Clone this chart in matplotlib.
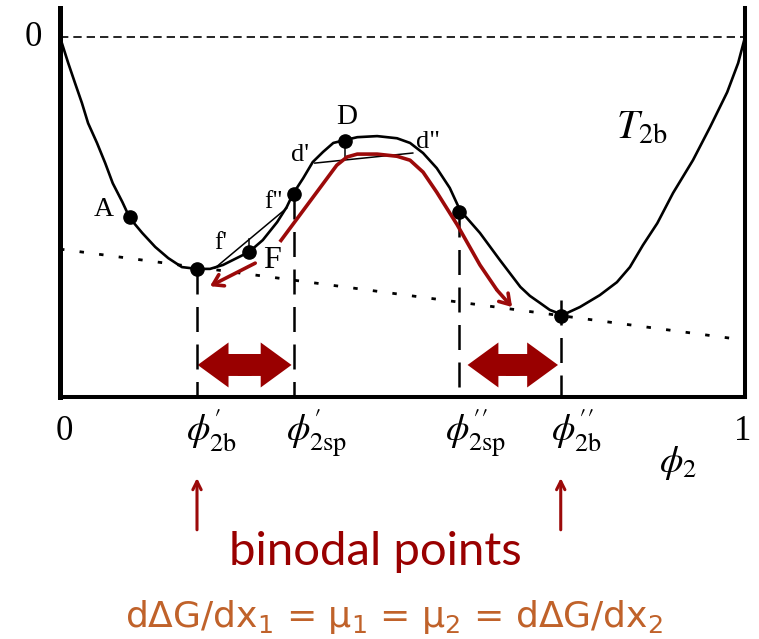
import matplotlib
matplotlib.use("Agg")
import matplotlib.pyplot as plt
from matplotlib.patches import FancyArrow

plt.rcParams['mathtext.fontset'] = 'stix'
SERIF = ['Liberation Serif', 'DejaVu Serif']

# free energy of mixing curve (phi_2 , dG in arbitrary units)
phi = [0.000, 0.012, 0.022, 0.032, 0.041, 0.054, 0.066, 0.077, 0.091, 0.102,
       0.120, 0.139, 0.158, 0.178, 0.200, 0.219, 0.238, 0.258, 0.276, 0.296,
       0.317, 0.331, 0.340, 0.355, 0.369, 0.384, 0.399, 0.416, 0.434, 0.463,
       0.492, 0.511, 0.530, 0.550, 0.569, 0.584, 0.613, 0.642, 0.672, 0.686,
       0.701, 0.715, 0.734, 0.759, 0.788, 0.813, 0.832, 0.851, 0.872, 0.895,
       0.924, 0.949, 0.974, 0.990, 1.000]
dG = [0.000, -0.072, -0.128, -0.183, -0.239, -0.294, -0.350, -0.406, -0.458, -0.503,
      -0.544, -0.583, -0.614, -0.639, -0.644, -0.644, -0.633, -0.614, -0.597, -0.564,
      -0.514, -0.472, -0.436, -0.392, -0.347, -0.319, -0.294, -0.286, -0.278, -0.275,
      -0.281, -0.294, -0.322, -0.364, -0.419, -0.481, -0.544, -0.619, -0.694, -0.719,
      -0.739, -0.758, -0.772, -0.750, -0.717, -0.681, -0.639, -0.578, -0.517, -0.433,
      -0.342, -0.250, -0.153, -0.072, 0.000]

# marked points: A, binodal', F, f'', D, spinodal'', binodal''
pt_phi = [0.102, 0.200, 0.276, 0.342, 0.416, 0.582, 0.731]
pt_dG = [-0.500, -0.644, -0.597, -0.436, -0.289, -0.486, -0.775]

# common tangent (dotted)
tan_phi = [0.0, 1.0]
tan_dG = [-0.589, -0.842]

# chords
chord_f_phi = [0.226, 0.331]
chord_f_dG = [-0.642, -0.475]
chord_d_phi = [0.372, 0.515]
chord_d_dG = [-0.350, -0.322]

# vertical drop lines: phi, top value
drop_phi = [0.200, 0.342, 0.582, 0.731]
drop_top = [-0.644, -0.436, -0.486, -0.731]

# red path of the system (D -> binodal)
red_phi = [0.321, 0.404, 0.419, 0.434, 0.463, 0.492, 0.511, 0.530, 0.550, 0.580,
           0.613, 0.638, 0.660]
red_dG = [-0.569, -0.356, -0.333, -0.325, -0.325, -0.331, -0.342, -0.375, -0.431, -0.522,
          -0.633, -0.703, -0.750]

# fat double arrows between binodal and spinodal
dbl_arrows = [(0.201, 0.338), (0.595, 0.727)]
dbl_y = -0.911

red = '#9c0a0a'

fig = plt.figure(figsize=(7.59, 6.39), dpi=100)
ax = fig.add_axes([60/759, 242/639, 685/759, 389/639])
ax.set_xlim(0, 1)
ax.set_ylim(-1, 0.081)
ax.set_xticks([])
ax.set_yticks([])
ax.spines['top'].set_visible(False)
ax.spines['left'].set_linewidth(3.6)
ax.spines['right'].set_linewidth(2.9)
ax.spines['bottom'].set_linewidth(2.9)

# zero line
ax.plot([0, 1], [0, 0], color='k', lw=1.2, ls=(0, (5, 3)))
# tangent
ax.plot(tan_phi, tan_dG, color='k', lw=2.0, ls=(0, (1.6, 5.5)))
# drop lines
for x, top in zip(drop_phi, drop_top):
    ax.plot([x, x], [top, -1], color='k', lw=1.8, ls=(0, (10, 5)))

# curve
ax.plot(phi, dG, color='k', lw=1.9, solid_joinstyle='round')
# chords and small ticks
ax.plot(chord_f_phi, chord_f_dG, color='k', lw=1.1)
ax.plot(chord_d_phi, chord_d_dG, color='k', lw=1.1)
ax.plot([pt_phi[2], pt_phi[2]], [pt_dG[2], -0.561], color='k', lw=1.1)
ax.plot([pt_phi[4], pt_phi[4]], [pt_dG[4], -0.333], color='k', lw=1.1)

ax.plot(pt_phi, pt_dG, 'o', color='k', ms=9.5)

# red arrows
ax.plot(red_phi[:-1], red_dG[:-1], color=red, lw=2.6, solid_capstyle='butt',
        solid_joinstyle='round')
ax.annotate('', xy=(red_phi[-1], red_dG[-1]), xytext=(red_phi[-2], red_dG[-2]),
            arrowprops=dict(arrowstyle='->,head_length=0.7,head_width=0.45',
                            color=red, lw=2.6, shrinkA=0, shrinkB=0))
ax.annotate('', xy=(0.219, -0.692), xytext=(0.285, -0.628),
            arrowprops=dict(arrowstyle='->,head_length=0.7,head_width=0.45',
                            color=red, lw=2.6, shrinkA=0, shrinkB=0))

# each half starts a bit past the middle so the two halves overlap
for x0, x1 in dbl_arrows:
    xc = (x0 + x1) / 2
    for start, end in ((xc - 0.01, x1), (xc + 0.01, x0)):
        ax.add_patch(FancyArrow(start, dbl_y, end - start, 0, width=0.061,
                                head_width=0.125, head_length=0.045,
                                length_includes_head=True, color='#990000', lw=0))

# labels on the curve
lab = dict(family=SERIF, color='k', ha='center', va='center')
ax.text(-0.039, 0.0, '0', fontsize=25, **lab)
ax.text(0.064, -0.478, 'A', fontsize=20, **lab)
ax.text(0.234, -0.572, "f'", fontsize=18, **lab)
ax.text(0.309, -0.622, 'F', fontsize=23, **lab)
ax.text(0.311, -0.458, 'f"', fontsize=18, **lab)
ax.text(0.350, -0.328, "d'", fontsize=19, **lab)
ax.text(0.418, -0.222, 'D', fontsize=21, **lab)
ax.text(0.537, -0.292, 'd"', fontsize=19, **lab)
ax.text(0.811, -0.283, r'$T_{\mathrm{2b}}$', fontsize=29, ha='left', va='baseline')

# axis labels
ax.text(0.006, -1.095, '0', fontsize=25, **lab)
ax.text(0.997, -1.095, '1', fontsize=25, **lab)
bl = dict(fontsize=27, ha='left', va='baseline')
ax.text(0.184, -1.125, r"$\phi^{\prime}_{\mathrm{2b}}$", **bl)
ax.text(0.330, -1.125, r"$\phi^{\prime}_{\mathrm{2sp}}$", **bl)
ax.text(0.562, -1.125, r"$\phi^{\prime\prime}_{\mathrm{2sp}}$", **bl)
ax.text(0.717, -1.125, r"$\phi^{\prime\prime}_{\mathrm{2b}}$", **bl)
ax.text(0.874, -1.208, r'$\phi_2$', **bl)

# binodal arrows and notes
for x in (pt_phi[1], pt_phi[6]):
    ax.annotate('', xy=(x, -1.225), xytext=(x, -1.369), annotation_clip=False,
                arrowprops=dict(arrowstyle='->,head_length=0.6,head_width=0.3',
                                color=red, lw=2.2, shrinkA=0, shrinkB=0))

ax.text(0.461, -1.467, 'binodal points', fontsize=34, color='#990000',
        family=['Lato', 'DejaVu Sans'], ha='center', va='baseline')
ax.text(0.488, -1.639,
        r'd$\mathregular{\Delta}$G/dx$\mathregular{_1}$ = μ$\mathregular{_1}$ = '
        r'μ$\mathregular{_2}$ = d$\mathregular{\Delta}$G/dx$\mathregular{_2}$',
        fontsize=26, color='#c0622a', family=['DejaVu Sans'], ha='center', va='baseline')

fig.savefig('out.png', dpi=100)
